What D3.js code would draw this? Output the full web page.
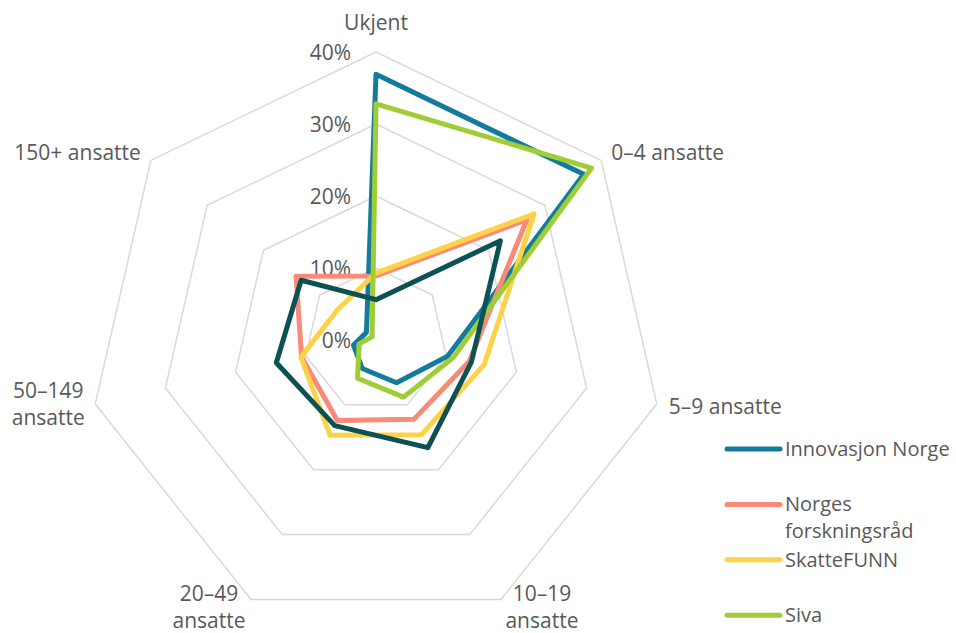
<!DOCTYPE html>
<html>
<head>
<meta charset="utf-8">
<script src="https://cdn.jsdelivr.net/npm/d3@7"></script>
<style>
  body { margin: 0; background: #fff; }
  text { font-family: "Open Sans", sans-serif; fill: #595959; }
</style>
</head>
<body>
<div id="chart"></div>
<script>
// categories (axes), clockwise from top
var categories = ["Ukjent", "0–4 ansatte", "5–9 ansatte", "10–19 ansatte", "20–49 ansatte", "50–149 ansatte", "150+ ansatte"];
var tickValues = [0, 10, 20, 30, 40];

// values in percent, one per category
var innovasjonNorge = [36.9, 36.9, 10.2, 6.6, 4.4, 3.2, 1.7];
var forskningsrad = [8.9, 26.8, 13.3, 12.2, 12.4, 10.6, 14.2];
var skattefunn = [9.3, 28.1, 15.4, 14.6, 14.7, 10.7, 6.8];
var siva = [32.8, 38.3, 11.0, 8.8, 5.9, 2.4, 0.7];
var andre = [5.6, 22.1, 13.6, 16.6, 13.2, 14.2, 13.3];

var seriesNames = ["Innovasjon Norge", "Norges forskningsråd", "SkatteFUNN", "Siva", "Andre"];
var seriesValues = [innovasjonNorge, forskningsrad, skattefunn, siva, andre];
var seriesColors = ["#137b9c", "#fa8a78", "#fdd246", "#9ecd35", "#0c5154"];

function init()
{
    var w = 956;
    var h = 633;
    var cx = 376, cy = 340;
    var n = categories.length;

    var svg = d3.select("#chart")
                .append("svg")
                .attr("width", w)
                .attr("height", h);

    var rScale = d3.scaleLinear()
                   .domain([0, 40])
                   .range([0, 288]);

    var angle = function(i) { return i * 2 * Math.PI / n; };
    var px = function(i, v) { return cx + rScale(v) * Math.sin(angle(i)); };
    var py = function(i, v) { return cy - rScale(v) * Math.cos(angle(i)); };

    // grid rings
    var ring = d3.line().x(function(d) { return d[0]; }).y(function(d) { return d[1]; });
    tickValues.filter(function(t) { return t > 0; }).forEach(function(t) {
        var pts = d3.range(n).map(function(i) { return [px(i, t), py(i, t)]; });
        pts.push(pts[0]);
        svg.append("path")
           .attr("d", ring(pts))
           .attr("fill", "none")
           .attr("stroke", "#d9d9d9")
           .attr("stroke-width", 1.5);
    });

    // tick labels
    svg.selectAll("text.tick")
       .data(tickValues)
       .enter()
       .append("text")
       .attr("class", "tick")
       .attr("x", cx - 25)
       .attr("y", function(d) { return cy - rScale(d); })
       .attr("dy", "0.36em")
       .attr("text-anchor", "end")
       .attr("font-size", "21px")
       .text(function(d) { return d + "%"; });

    // series lines
    var line = d3.lineRadial()
                 .angle(function(d, i) { return angle(i); })
                 .radius(function(d) { return rScale(d); })
                 .curve(d3.curveLinearClosed);

    svg.selectAll("path.series")
       .data(seriesValues)
       .enter()
       .append("path")
       .attr("class", "series")
       .attr("transform", "translate(" + cx + "," + cy + ")")
       .attr("d", line)
       .attr("fill", "none")
       .attr("stroke", function(d, i) { return seriesColors[i]; })
       .attr("stroke-width", 5)
       .attr("stroke-linejoin", "round");

    // category labels
    categories.forEach(function(c, i) {
        var vx = px(i, 40), vy = py(i, 40);
        var s = Math.sin(angle(i)), co = Math.cos(angle(i));
        var lines = [c], x = vx, y = vy, anchor = "middle";
        if (i == 0) {
            y = vy - 22;
        } else if (co < -0.5) {
            // bottom labels wrap and sit beside the vertex
            lines = [c.split(" ")[0], c.split(" ").slice(1).join(" ")];
            x = vx + (s > 0 ? 41 : -42);
            y = vy + 2;
        } else if (Math.abs(co) < 0.5) {
            if (s > 0) { anchor = "start"; x = vx + 12; y = vy + 10; }
            else {
                lines = [c.split(" ")[0], c.split(" ").slice(1).join(" ")];
                x = vx - 47; y = vy - 6;
            }
        } else {
            anchor = s > 0 ? "start" : "end";
            x = vx + (s > 0 ? 10 : -10);
            y = vy;
        }
        var t = svg.append("text")
                   .attr("text-anchor", anchor)
                   .attr("font-size", "21px");
        lines.forEach(function(l, k) {
            t.append("tspan").attr("x", x).attr("y", y + k * 27).text(l);
        });
    });

    // legend: only the first four entries fit in the frame
    var legend = svg.selectAll("g.legend")
                    .data(seriesNames.slice(0, 4))
                    .enter()
                    .append("g")
                    .attr("class", "legend")
                    .attr("transform", function(d, i) { return "translate(727," + (449 + i * 55.4) + ")"; });

    legend.append("line")
          .attr("x1", 0).attr("x2", 53)
          .attr("stroke", function(d, i) { return seriesColors[i]; })
          .attr("stroke-width", 5)
          .attr("stroke-linecap", "round");

    legend.append("text")
          .attr("font-size", "20px")
          .each(function(d) {
              var parts = d == "Norges forskningsråd" ? ["Norges", "forskningsråd"] : [d];
              var t = d3.select(this);
              parts.forEach(function(p, k) {
                  t.append("tspan").attr("x", 58).attr("y", 7 + k * 27).text(p);
              });
          });
}
window.onload = init;
</script>
</body>
</html>
